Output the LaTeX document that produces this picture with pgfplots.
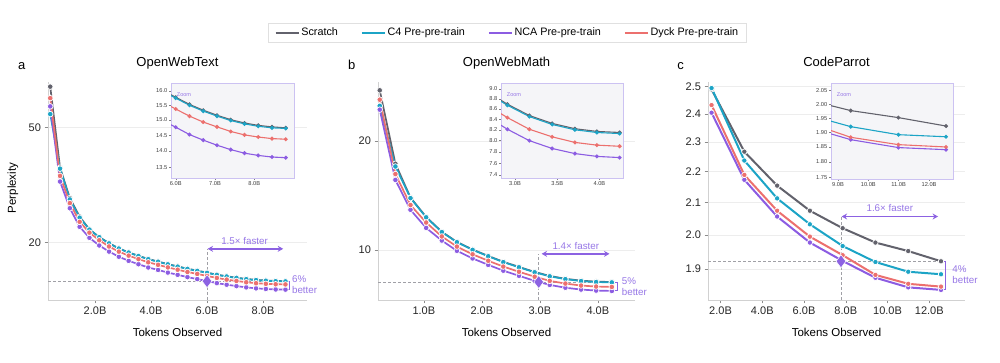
\documentclass[border=0pt]{standalone}
\usepackage{fontspec}
\setmainfont{Liberation Sans}
\usepackage{pgfplots}
\pgfplotsset{compat=1.18}
\usepackage{pgfplotstable}
\usetikzlibrary{arrows.meta}

\definecolor{cS}{RGB}{98,98,108}
\definecolor{cC}{RGB}{28,164,198}
\definecolor{cN}{RGB}{140,92,226}
\definecolor{cD}{RGB}{236,112,110}
\definecolor{annc}{RGB}{140,98,226}
\definecolor{anntxt}{RGB}{150,118,230}
\definecolor{insetbg}{RGB}{245,245,248}
\definecolor{insetbd}{RGB}{204,194,242}
\definecolor{dashc}{RGB}{160,160,166}

\pgfplotstableread{
x s c4 dyck nca
0.40 69.0 55.5 63.0 59.0
0.75 36.3 36.0 34.0 32.5
1.10 28.5 28.2 27.4 26.3
1.45 24.6 24.4 23.6 22.7
1.80 22.23 22.2 21.67 20.80
2.15 20.93 20.9 20.40 19.58
2.50 19.93 19.9 19.42 18.65
2.85 19.13 19.1 18.64 17.90
3.20 18.53 18.5 18.06 17.33
3.55 18.03 18.0 17.57 16.87
3.90 17.58 17.55 17.13 16.44
4.25 17.23 17.2 16.79 16.12
4.60 16.88 16.85 16.45 15.79
4.95 16.58 16.55 16.15 15.51
5.30 16.28 16.25 15.86 15.23
5.65 16.03 16.0 15.62 14.99
6.00 15.78 15.75 15.37 14.76
6.35 15.53 15.5 15.13 14.52
6.70 15.33 15.3 14.93 14.34
7.05 15.16 15.13 14.77 14.18
7.40 15.01 14.98 14.62 14.04
7.75 14.90 14.87 14.51 13.93
8.10 14.82 14.79 14.44 13.86
8.45 14.77 14.74 14.39 13.81
8.80 14.74 14.72 14.37 13.79
}\dataA

\pgfplotstableread{
x s c4 dyck nca
0.24 27.6 25.0 26.0 24.4
0.51 17.3 17.0 16.2 15.6
0.77 13.95 13.9 13.3 12.9
1.04 12.33 12.3 11.9 11.5
1.31 11.22 11.2 10.89 10.61
1.57 10.52 10.5 10.21 9.94
1.84 10.02 10.0 9.72 9.47
2.11 9.62 9.6 9.33 9.09
2.37 9.27 9.25 8.99 8.76
2.64 8.97 8.95 8.70 8.48
2.91 8.69 8.67 8.43 8.21
3.17 8.47 8.45 8.21 8.00
3.44 8.32 8.30 8.07 7.86
3.71 8.22 8.20 7.97 7.77
3.97 8.17 8.15 7.92 7.72
4.24 8.15 8.13 7.90 7.70
}\dataB

\pgfplotstableread{
x s c4 dyck nca
1.57 2.490 2.495 2.432 2.404
3.14 2.267 2.237 2.189 2.173
4.71 2.154 2.113 2.074 2.056
6.28 2.074 2.032 1.995 1.977
7.85 2.020 1.967 1.940 1.923
9.42 1.977 1.920 1.883 1.875
10.99 1.952 1.892 1.858 1.848
12.56 1.922 1.885 1.850 1.841
}\dataC

\pgfplotsset{
  mainax/.style={scale only axis, anchor=south west, clip=false,
    axis lines*=left, axis line style={draw=black!18, line width=0.8pt, -},
    tick align=outside, major tick length=3.5pt,
    tick style={black!45, line width=0.6pt},
    ymajorgrids, major grid style={black!7, line width=0.6pt},
    yminorticks=false, xminorticks=false,
    ticklabel style={font=\fontsize{11}{13}\selectfont, text=black!85}},
  inax/.style={scale only axis, anchor=south west,
    axis background/.style={fill=insetbg},
    axis line style={draw=insetbd, line width=0.7pt},
    xtick pos=left, ytick pos=left,
    tick align=outside, major tick length=2pt,
    tick style={black!50, line width=0.4pt},
    yminorticks=false, xminorticks=false,
    ticklabel style={font=\fontsize{5.7}{6.5}\selectfont, text=black!75, inner sep=1.5pt}},
  ml/.style={line width=1.7pt, mark=*, mark size=2.8pt, mark options={draw=white, line width=0.7pt, solid}},
  mlc/.style={line width=2pt, mark=*, mark size=2.7pt, mark options={draw=white, line width=0.7pt, solid}},
  il/.style={line width=1.1pt, mark=*, mark size=1.4pt, mark options={solid}},
  dsh/.style={dashc, line width=0.7pt, dash pattern=on 3pt off 2pt, no marks},
  brk/.style={annc, line width=1pt, no marks},
  dia/.style={only marks, mark=diamond*, mark size=6.5pt, color=annc, mark options={draw=white, line width=0.5pt}},
}
\tikzset{arr/.style={annc, line width=1.4pt, {Stealth[length=5.5pt,width=6pt]}-{Stealth[length=5.5pt,width=6pt]}}}
\newcommand{\anfont}{\fontsize{9.8}{11}\selectfont}

\begin{document}
\begin{tikzpicture}
\path[use as bounding box] (0,0) rectangle (1000pt,363pt);

% ---------------- Panel a ----------------
\begin{axis}[mainax, ymode=log, at={(48pt,63pt)}, width=259pt, height=218pt,
  xmin=0.32, xmax=9.57, ymin=12.7, ymax=71.6,
  xtick={2,4,6,8}, xticklabels={2.0B,4.0B,6.0B,8.0B},
  ytick={20,50}, yticklabels={20,50},
  legend columns=4,
  legend style={at={(1.774,1.226)}, anchor=center, draw=black!12, line width=0.6pt,
    font=\fontsize{10.8}{12}\selectfont, inner xsep=6pt, inner ysep=2.5pt,
    /tikz/every even column/.append style={column sep=21pt}},
  legend cell align=left,
  legend image code/.code={\draw[#1] (0pt,0pt) -- (23pt,0pt);}]
\addlegendimage{cS, line width=1.6pt}\addlegendentry{Scratch}
\addlegendimage{cC, line width=1.6pt}\addlegendentry{C4 Pre-pre-train}
\addlegendimage{cN, line width=1.6pt}\addlegendentry{NCA Pre-pre-train}
\addlegendimage{cD, line width=1.6pt}\addlegendentry{Dyck Pre-pre-train}
\addplot[dsh, forget plot] coordinates {(0.32,14.74) (8.8,14.74)};
\addplot[dsh, forget plot] coordinates {(6.0,12.7) (6.0,19.06)};
\addplot[cS, ml, forget plot] table[x=x,y=s]{\dataA};
\addplot[cC, ml, forget plot] table[x=x,y=c4]{\dataA};
\addplot[cN, ml, forget plot] table[x=x,y=nca]{\dataA};
\addplot[cD, ml, forget plot] table[x=x,y=dyck]{\dataA};
\addplot[dia, forget plot] coordinates {(6.0,14.74)};
\addplot[brk, forget plot] coordinates {(8.8,14.74) (8.95,14.74) (8.95,13.79) (8.8,13.79)};
\draw[arr] (axis cs:6.02,19.06) -- (axis cs:8.72,19.06);
\node[anntxt, font=\anfont] at (axis cs:7.34,20.3) {1.5× faster};
\node[anntxt, font=\anfont, anchor=west, inner sep=0pt] at (axis cs:9.03,14.98) {6\%};
\node[anntxt, font=\anfont, anchor=west, inner sep=0pt] at (axis cs:9.03,13.72) {better};
\end{axis}

% ---------------- Panel b ----------------
\begin{axis}[mainax, ymode=log, at={(378pt,63pt)}, width=257pt, height=218pt,
  xmin=0.21, xmax=4.64, ymin=7.27, ymax=29.1,
  xtick={1,2,3,4}, xticklabels={1.0B,2.0B,3.0B,4.0B},
  ytick={10,20}, yticklabels={10,20}]
\addplot[dsh] coordinates {(0.21,8.15) (4.24,8.15)};
\addplot[dsh] coordinates {(2.98,7.27) (2.98,9.75)};
\addplot[cS, ml] table[x=x,y=s]{\dataB};
\addplot[cC, ml] table[x=x,y=c4]{\dataB};
\addplot[cN, ml] table[x=x,y=nca]{\dataB};
\addplot[cD, ml] table[x=x,y=dyck]{\dataB};
\addplot[dia] coordinates {(2.98,8.15)};
\addplot[brk] coordinates {(4.24,8.15) (4.34,8.15) (4.34,7.70) (4.24,7.70)};
\draw[arr] (axis cs:3.03,9.75) -- (axis cs:4.2,9.75);
\node[anntxt, font=\anfont] at (axis cs:3.62,10.28) {1.4× faster};
\node[anntxt, font=\anfont, anchor=west, inner sep=0pt] at (axis cs:4.41,8.21) {5\%};
\node[anntxt, font=\anfont, anchor=west, inner sep=0pt] at (axis cs:4.41,7.67) {better};
\end{axis}

% ---------------- Panel c ----------------
\begin{axis}[mainax, ymode=log, at={(708pt,63pt)}, width=257pt, height=218pt,
  xmin=1.40, xmax=13.71, ymin=1.813, ymax=2.518,
  xtick={2,4,6,8,10,12}, xticklabels={2.0B,4.0B,6.0B,8.0B,10.0B,12.0B},
  ytick={1.9,2.0,2.1,2.2,2.3,2.4,2.5}, yticklabels={1.9,2.0,2.1,2.2,2.3,2.4,2.5}]
\addplot[dsh] coordinates {(1.40,1.922) (12.56,1.922)};
\addplot[dsh] coordinates {(7.77,1.813) (7.77,2.056)};
\addplot[cS, mlc] table[x=x,y=s]{\dataC};
\addplot[cC, mlc] table[x=x,y=c4]{\dataC};
\addplot[cN, mlc] table[x=x,y=nca]{\dataC};
\addplot[cD, mlc] table[x=x,y=dyck]{\dataC};
\addplot[dia] coordinates {(7.77,1.922)};
\addplot[brk] coordinates {(12.6,1.922) (12.78,1.922) (12.78,1.841) (12.6,1.841)};
\draw[arr] (axis cs:7.8,2.056) -- (axis cs:12.42,2.056);
\node[anntxt, font=\anfont] at (axis cs:10.11,2.082) {1.6× faster};
\node[anntxt, font=\anfont, anchor=west, inner sep=0pt] at (axis cs:13.1,1.899) {4\%};
\node[anntxt, font=\anfont, anchor=west, inner sep=0pt] at (axis cs:13.1,1.869) {better};
\end{axis}

% ---------------- Insets ----------------
\begin{axis}[inax, ymode=log, at={(171pt,185pt)}, width=123pt, height=95pt,
  xmin=5.88, xmax=9.01, ymin=13.18, ymax=16.29,
  xtick={6,7,8}, xticklabels={6.0B,7.0B,8.0B},
  ytick={13.5,14,14.5,15,15.5,16}, yticklabels={13.5,14.0,14.5,15.0,15.5,16.0}]
\addplot[cS, il] table[x=x,y=s]{\dataA};
\addplot[cC, il] table[x=x,y=c4]{\dataA};
\addplot[cN, il] table[x=x,y=nca]{\dataA};
\addplot[cD, il] table[x=x,y=dyck]{\dataA};
\node[anchor=west, text=anntxt, font=\fontsize{5.5}{6}\selectfont] at (rel axis cs:0.02,0.875) {Zoom};
\end{axis}

\begin{axis}[inax, ymode=log, at={(501pt,185pt)}, width=122pt, height=95pt,
  xmin=2.834, xmax=4.28, ymin=7.35, ymax=9.12,
  xtick={3,3.5,4}, xticklabels={3.0B,3.5B,4.0B},
  ytick={7.4,7.6,7.8,8.0,8.2,8.4,8.6,8.8,9.0}, yticklabels={7.4,7.6,7.8,8.0,8.2,8.4,8.6,8.8,9.0}]
\addplot[cS, il] table[x=x,y=s]{\dataB};
\addplot[cC, il] table[x=x,y=c4]{\dataB};
\addplot[cN, il] table[x=x,y=nca]{\dataB};
\addplot[cD, il] table[x=x,y=dyck]{\dataB};
\node[anchor=west, text=anntxt, font=\fontsize{5.5}{6}\selectfont] at (rel axis cs:0.02,0.875) {Zoom};
\end{axis}

\begin{axis}[inax, ymode=log, at={(831pt,184pt)}, width=122pt, height=96pt,
  xmin=8.77, xmax=12.79, ymin=1.745, ymax=2.079,
  xtick={9,10,11,12}, xticklabels={9.0B,10.0B,11.0B,12.0B},
  ytick={1.75,1.8,1.85,1.9,1.95,2.0,2.05}, yticklabels={1.75,1.80,1.85,1.90,1.95,2.00,2.05}]
\addplot[cS, il] table[x=x,y=s]{\dataC};
\addplot[cC, il] table[x=x,y=c4]{\dataC};
\addplot[cN, il] table[x=x,y=nca]{\dataC};
\addplot[cD, il] table[x=x,y=dyck]{\dataC};
\node[anchor=west, text=anntxt, font=\fontsize{5.5}{6}\selectfont] at (rel axis cs:0.02,0.875) {Zoom};
\end{axis}

% ---------------- Titles and labels ----------------
\node[anchor=base, font=\fontsize{13}{15}\selectfont] at (177.5pt,296.5pt) {OpenWebText};
\node[anchor=base, font=\fontsize{13}{15}\selectfont] at (506.5pt,296.5pt) {OpenWebMath};
\node[anchor=base, font=\fontsize{13}{15}\selectfont] at (836.5pt,296.5pt) {CodeParrot};
\node[anchor=base, font=\fontsize{13}{15}\selectfont] at (21.7pt,293.5pt) {a};
\node[anchor=base, font=\fontsize{13}{15}\selectfont] at (351.7pt,293.5pt) {b};
\node[anchor=base, font=\fontsize{13}{15}\selectfont] at (680.7pt,293.5pt) {c};
\node[anchor=base, font=\fontsize{11.5}{13}\selectfont] at (177.5pt,26.5pt) {Tokens Observed};
\node[anchor=base, font=\fontsize{11.5}{13}\selectfont] at (506.5pt,26.5pt) {Tokens Observed};
\node[anchor=base, font=\fontsize{11.5}{13}\selectfont] at (836.5pt,26.5pt) {Tokens Observed};
\node[rotate=90, font=\fontsize{11.5}{13}\selectfont] at (13pt,175pt) {Perplexity};
\end{tikzpicture}
\end{document}
